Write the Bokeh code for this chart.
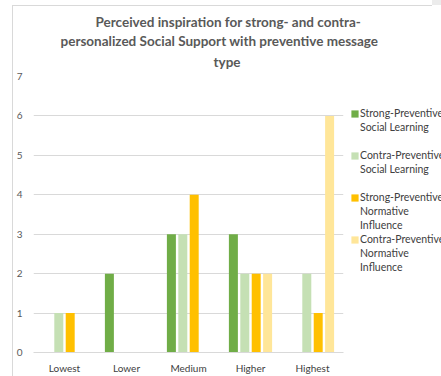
from bokeh.plotting import figure
from bokeh.models import ColumnDataSource, Legend, LegendItem, Title
from bokeh.transform import dodge
from bokeh.embed import file_html
from bokeh.resources import INLINE

# Inspiration level categories
levels = ["Lowest", "Lower", "Medium", "Higher", "Highest"]

# Counts per level for each support / message combination
strong_social = [0, 2, 3, 3, 0]
contra_social = [1, 0, 3, 2, 2]
strong_normative = [1, 0, 4, 2, 1]
contra_normative = [0, 0, 0, 2, 6]

# Legend entries, one list of text lines per series
series_labels = [
    ["Strong-Preventive", "Social Learning"],
    ["Contra-Preventive", "Social Learning"],
    ["Strong-Preventive", "Normative", "Influence"],
    ["Contra-Preventive", "Normative", "Influence"],
]
series_colors = ["#70AD47", "#C5E0B4", "#FFC000", "#FFE699"]
y_ticks = [0, 1, 2, 3, 4, 5, 6, 7]

title_lines = [
    "Perceived inspiration for strong- and contra-",
    "personalized Social Support with preventive message",
    "type",
]
# left offsets (px from plot-area edge) that centre each title line over the chart
title_offsets = [62, 27, 180]
title_standoffs = [0, 2, 9]
title_valign = ["bottom", "bottom", "top"]

source = ColumnDataSource(dict(
    level=levels,
    s0=strong_social,
    s1=contra_social,
    s2=strong_normative,
    s3=contra_normative,
))

FONT = "Lato"
GREY = "#595959"
FRAME_W, FRAME_H = 310, 276

p = figure(
    x_range=levels, y_range=(0, 7),
    frame_width=FRAME_W, frame_height=FRAME_H,
    min_border_left=33, min_border_right=98,
    min_border_top=76, min_border_bottom=24,
    output_backend="svg", toolbar_location=None, title=None,
    border_fill_color=None, background_fill_color="white",
)

# Chart border: thin left and top rules behind the transparent canvas
p.styles = {
    "background": (
        "linear-gradient(#d9d9d9,#d9d9d9) 12px 5px / 1px 100% no-repeat, "
        "linear-gradient(#d9d9d9,#d9d9d9) 12px 5px / 420px 1px no-repeat, "
        "linear-gradient(#ececec,#ececec) 432px 0px / 9px 5px no-repeat, "
        "white"
    )
}

offsets = [-0.276, -0.092, 0.092, 0.276]
renderers = []
for i, (off, col) in enumerate(zip(offsets, series_colors)):
    r = p.vbar(x=dodge("level", off, range=p.x_range), top=f"s{i}", width=0.145,
               source=source, fill_color=col, line_color=None)
    renderers.append(r)

# Invisible renderer used for the continuation lines of the legend
blank = p.vbar(x=[], top=[], width=0.1, fill_alpha=0, line_alpha=0)

# Axes and grid
p.xgrid.grid_line_color = None
p.ygrid.grid_line_color = "#d9d9d9"
p.outline_line_color = None

p.yaxis.ticker = y_ticks
p.yaxis.axis_line_color = None
p.yaxis.major_tick_line_color = None
p.yaxis.minor_tick_line_color = None
p.yaxis.major_tick_out = 0
p.yaxis.major_tick_in = 0
p.yaxis.major_label_standoff = 11
p.yaxis.major_label_text_font = FONT
p.yaxis.major_label_text_font_size = "10px"
p.yaxis.major_label_text_color = GREY

p.xaxis.axis_line_color = "#d9d9d9"
p.xaxis.major_tick_line_color = None
p.xaxis.minor_tick_line_color = None
p.xaxis.major_tick_out = 0
p.xaxis.major_tick_in = 0
p.xaxis.major_label_standoff = 9
p.xaxis.major_label_text_font = FONT
p.xaxis.major_label_text_font_size = "10px"
p.xaxis.major_label_text_color = "#404040"

# Legend: one row per text line, coloured square on the first line of each entry,
# and an empty row between the two-line entries
items = []
for k, (lines, r) in enumerate(zip(series_labels, renderers)):
    items.append(LegendItem(label=lines[0], renderers=[r]))
    for extra in lines[1:]:
        items.append(LegendItem(label=extra, renderers=[blank]))
    if len(lines) == 2:
        items.append(LegendItem(label=" ", renderers=[blank]))

legend = Legend(
    items=items,
    location=(7, 78),
    margin=0, padding=0,
    spacing=0,
    glyph_width=9, glyph_height=9,
    label_height=14,
    label_standoff=1,
    label_text_font=FONT, label_text_font_size="10.5px", label_text_color="#404040",
    label_text_line_height=1.0,
    border_line_color=None, background_fill_alpha=0,
)
p.add_layout(legend, "right")

# Three-line chart title; the line nearest the plot is added first
for line, off, so, va in reversed(list(zip(title_lines, title_offsets,
                                           title_standoffs, title_valign))):
    p.add_layout(Title(text=line, align="left", offset=off, standoff=so,
                       vertical_align=va,
                       text_font=FONT, text_font_size="13.5px", text_font_style="bold",
                       text_line_height=1.0, text_color=GREY), "above")

open("out.html", "w").write(file_html(p, INLINE))
